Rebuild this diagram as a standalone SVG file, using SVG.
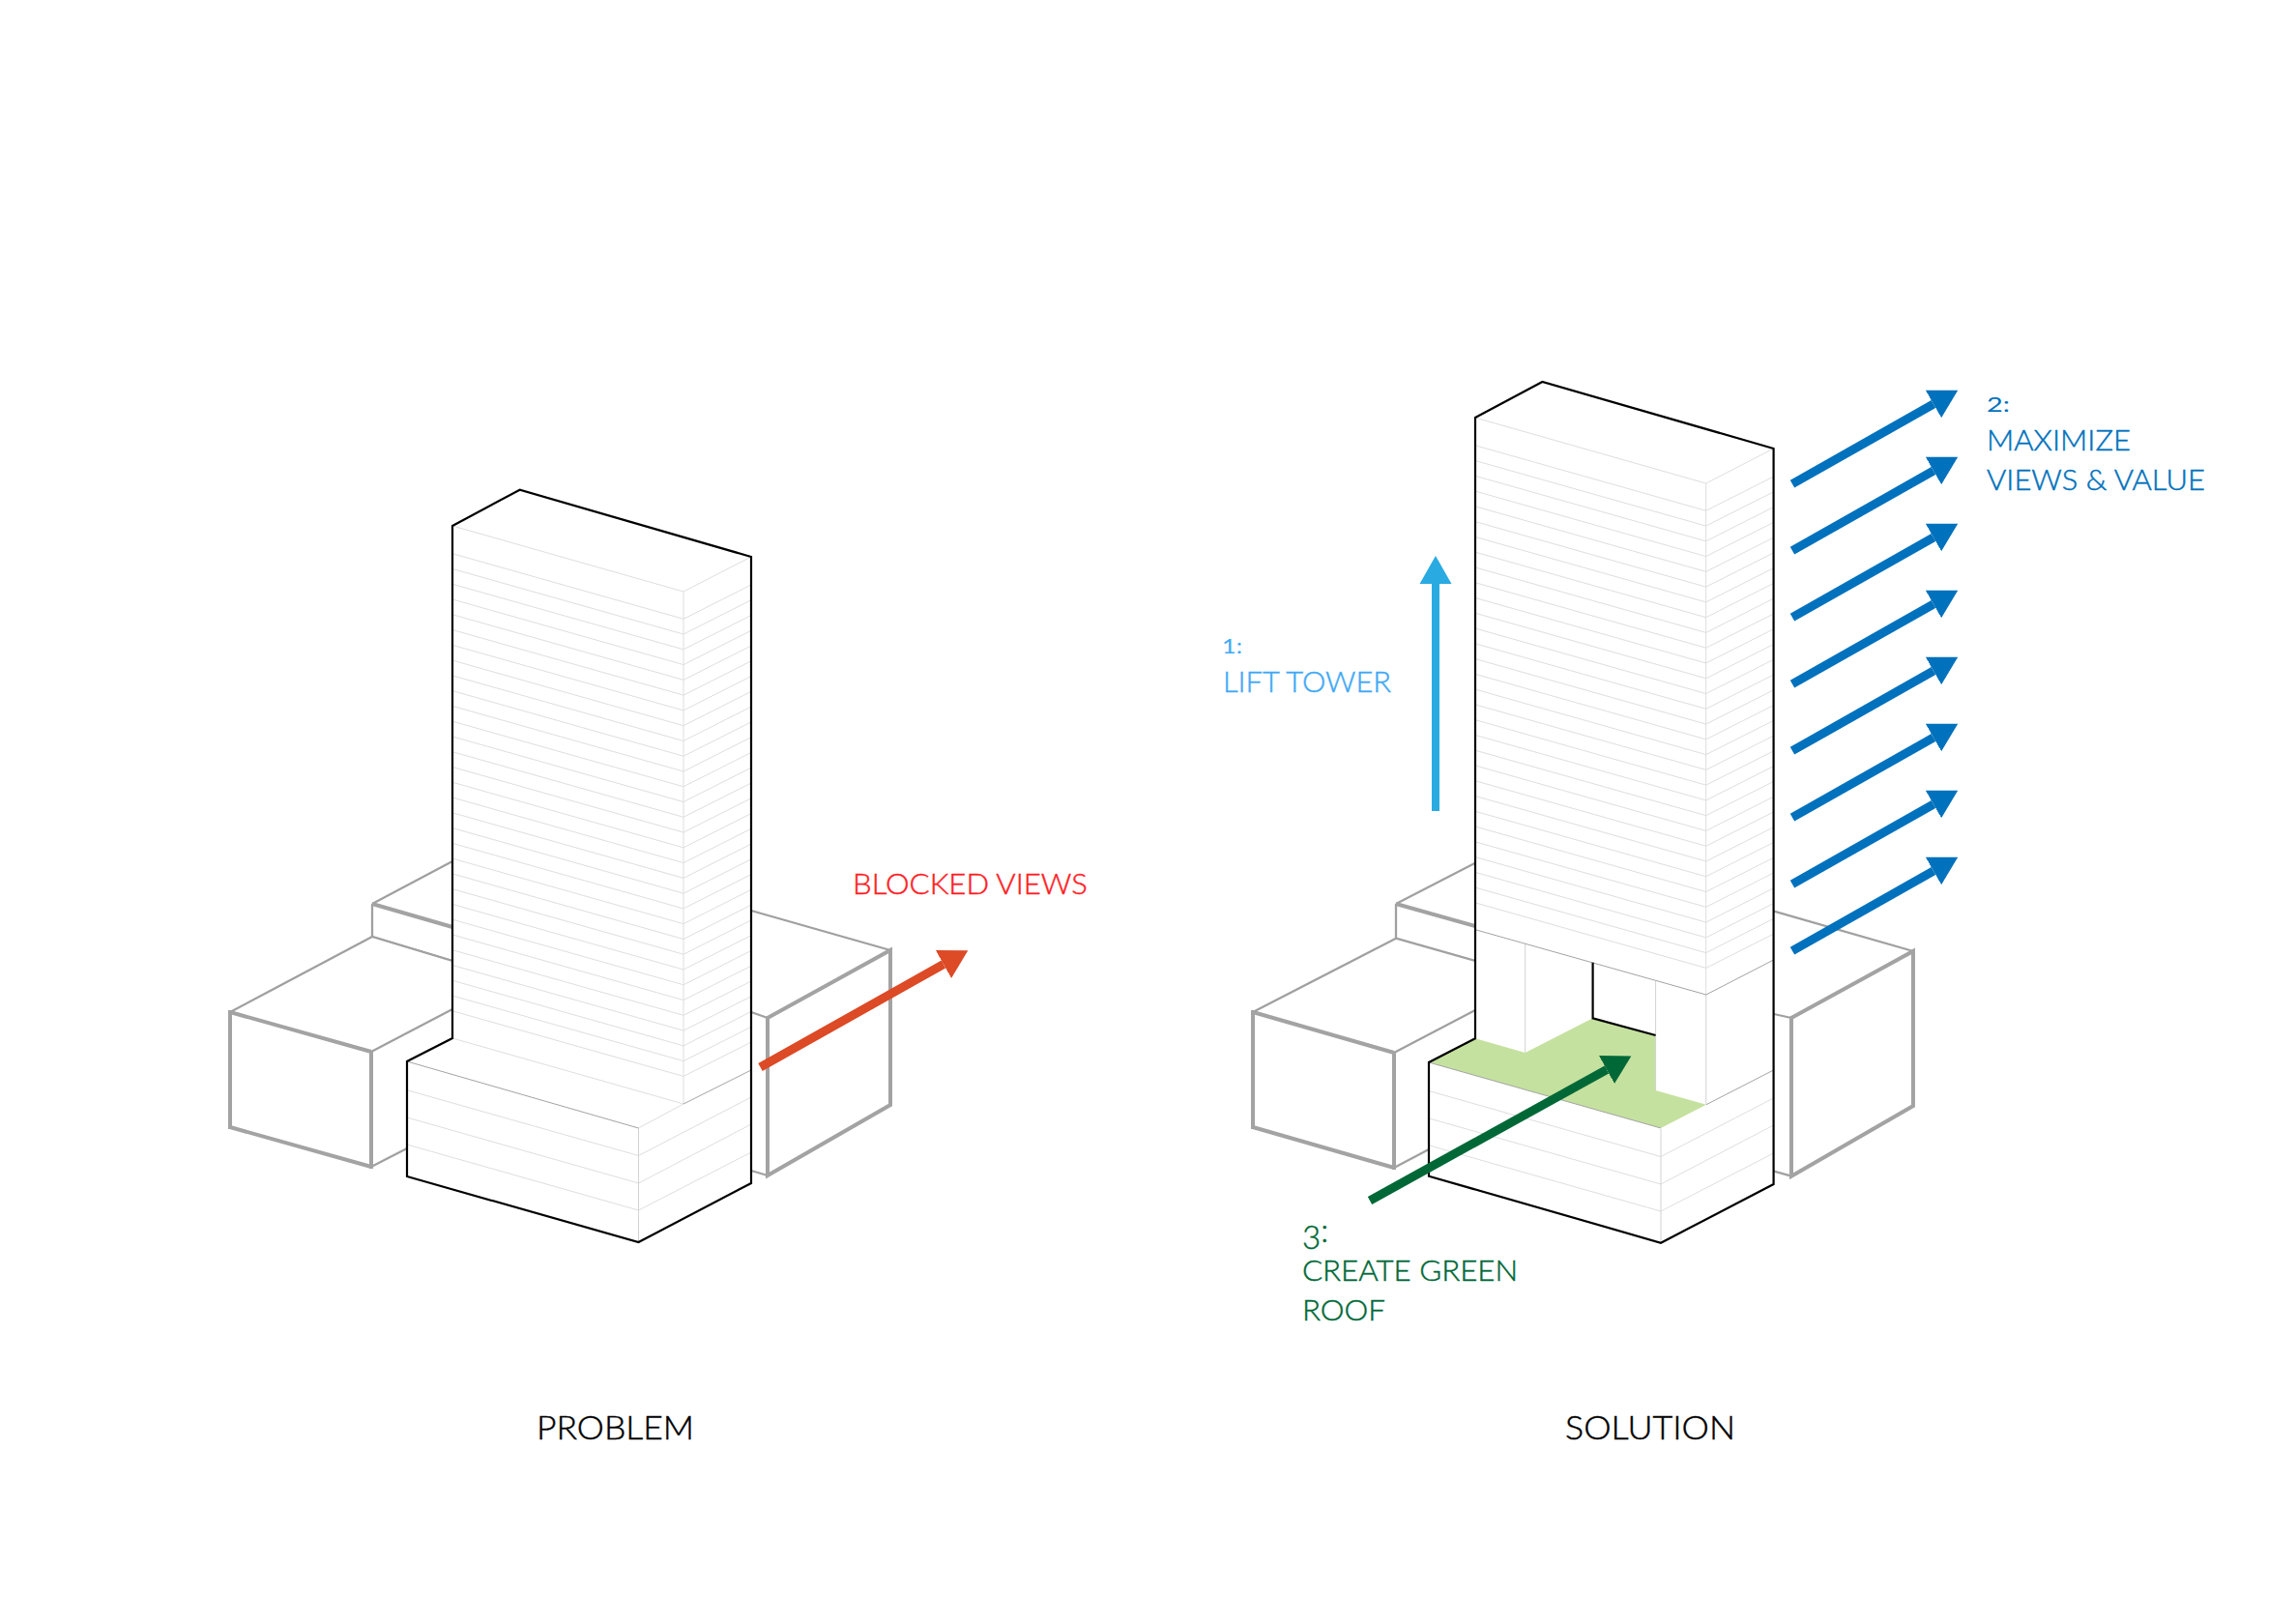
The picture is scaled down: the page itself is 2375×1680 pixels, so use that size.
<svg xmlns="http://www.w3.org/2000/svg" xmlns:xlink="http://www.w3.org/1999/xlink" width="2375" height="1680" viewBox="0 0 2375 1680">
<style>
text{font-family:"Lato","Liberation Sans",sans-serif;font-size:30px;font-weight:300;stroke-width:0.45}
.big{font-size:33.5px}
.num{font-size:21px;font-weight:400;stroke-width:0}
.tr{fill:#ff1d25;stroke:#ff1d25}
.tk{fill:#000;stroke:#000}
.tl{fill:#3fa9f5;stroke:#3fa9f5}
.tb{fill:#0071bc;stroke:#0071bc}
.tg{fill:#006837;stroke:#006837}
.o{fill:none;stroke:#000;stroke-width:2.2;stroke-linejoin:miter}
.w{fill:#fff;stroke:none}
.f{fill:none;stroke:#dedede;stroke-width:1}
.v{fill:none;stroke:#d2d2d2;stroke-width:1}
.e{fill:none;stroke:#a3a3a3;stroke-width:1}
.g1{fill:none;stroke:#a0a0a0;stroke-width:2.3}
.g2{fill:none;stroke:#a3a3a3;stroke-width:4}
.face{fill:#fff;stroke:none}
</style>
<defs>
<marker id="hb" markerUnits="userSpaceOnUse" markerWidth="30" markerHeight="34" refX="0" refY="17" orient="auto" viewBox="0 0 30 34"><path d="M0,0.5 L29,17 L0,33.5 Z" fill="#0071bc"/></marker>
<marker id="hr" markerUnits="userSpaceOnUse" markerWidth="30" markerHeight="34" refX="0" refY="17" orient="auto" viewBox="0 0 30 34"><path d="M0,0.5 L29,17 L0,33.5 Z" fill="#dc4a26"/></marker>
<marker id="hg" markerUnits="userSpaceOnUse" markerWidth="30" markerHeight="34" refX="0" refY="17" orient="auto" viewBox="0 0 30 34"><path d="M0,0.5 L29,17 L0,33.5 Z" fill="#006837"/></marker>
<marker id="hl" markerUnits="userSpaceOnUse" markerWidth="30" markerHeight="34" refX="0" refY="17" orient="auto" viewBox="0 0 30 34"><path d="M0,0.5 L29,17 L0,33.5 Z" fill="#29abe2"/></marker>
<polyline id="fl" class="f" points="468,572.7 707,640.3 777,605"/>
<g id="floors">
<polyline class="f" points="468,544 707,612 777,576"/>
<polyline class="f" points="707,612 707,1142"/>
<use href="#fl"/><use href="#fl" y="15.77"/><use href="#fl" y="31.54"/><use href="#fl" y="47.31"/><use href="#fl" y="63.08"/><use href="#fl" y="78.85"/><use href="#fl" y="94.62"/><use href="#fl" y="110.39"/><use href="#fl" y="126.16"/><use href="#fl" y="141.93"/><use href="#fl" y="157.7"/><use href="#fl" y="173.47"/><use href="#fl" y="189.24"/><use href="#fl" y="205.01"/><use href="#fl" y="220.78"/><use href="#fl" y="236.55"/><use href="#fl" y="252.32"/><use href="#fl" y="268.09"/><use href="#fl" y="283.86"/><use href="#fl" y="299.63"/><use href="#fl" y="315.4"/><use href="#fl" y="331.17"/><use href="#fl" y="346.94"/><use href="#fl" y="362.71"/><use href="#fl" y="378.48"/><use href="#fl" y="394.25"/><use href="#fl" y="410.02"/><use href="#fl" y="425.79"/><use href="#fl" y="441.56"/><use href="#fl" y="457.33"/><use href="#fl" y="473.1"/>
</g>
<g id="podfloors">
<polyline class="f" points="421,1127.7 660.5,1195.5 777,1135"/>
<polyline class="f" points="421,1156 660.5,1224 777,1163"/>
<polyline class="f" points="421,1184 660.5,1252 777,1192"/>
<polyline class="v" points="660.5,1167 660.5,1285"/>
</g>
</defs>
<rect width="2375" height="1680" fill="#fff"/>

<g id="problem-context">
<path class="g1" d="M385,969 V935 M385,935 L468,891 M385,969 L468,994"/>
<path class="g2" d="M385,935 L468,959"/>
<path class="face" d="M238,1047 L385,969 L468,994 V1150 L384,1207 L238,1166 Z"/>
<path class="g1" d="M238,1047 L385,969 L468,994 M384,1088 L468,1044 M384,1207 L421,1188"/>
<path class="g2" d="M238,1047 L384,1088 M238,1166 L384,1207 M238,1045 V1168 M384,1088 V1209"/>
<path class="g1" d="M777,942 L921,983 M777,1047 L794,1053 M777,1211 L794,1216"/>
<path class="g2" d="M794,1053 L921,983 V1143 L794,1216 Z"/>
</g>

<g id="problem-tower">
<path class="w" d="M468,544 L537.7,506.7 L777,576 V1224 L660.5,1285 L421,1217 V1098 L468,1074 Z"/>
<use href="#floors"/>
<use href="#podfloors"/>
<path class="f" d="M468,1074 L707,1142 M660.5,1167 L707,1142"/>
<path class="e" d="M707,1142 L777,1107 M421,1098 L660.5,1167"/>
<path class="o" d="M468,544 L537.7,506.7 L777,576 V1224 L660.5,1285 L421,1217 V1098 L468,1074 Z"/>
</g>

<g id="solution-context">
<path class="g1" d="M1444,970.7 V935 M1444,935 L1526,892.7 M1444,970.7 L1526,994"/>
<path class="g2" d="M1444,935 L1526,958"/>
<path class="g1" d="M1296,1047 L1444,970.7 M1442,1089 L1526,1045 M1442,1208 L1478,1189"/>
<path class="g2" d="M1296,1047 L1442,1089 M1296,1166 L1442,1208 M1296,1045 V1168 M1442,1089 V1210"/>
<path class="g1" d="M1835,942.7 L1979,984 M1835,1049 L1853,1053 M1835,1211.7 L1853,1216.7"/>
<path class="g2" d="M1853,1053 L1979,984 V1144 L1853,1216.7 Z"/>
</g>

<g id="solution-tower">
<path class="w" d="M1526,432 L1595.4,395 L1834.6,464 V1225 L1718,1285.7 L1478,1216.7 V1099 L1526,1074.3 Z"/>
<g transform="translate(1057.7,-112)"><use href="#floors"/></g>
<g transform="translate(1057.5,1)"><use href="#podfloors"/></g>
<path d="M1478,1099 L1526,1074.3 L1577.7,1089 L1647.6,1053.3 L1712.6,1071 V1128 L1765,1142.7 L1718,1167 Z" fill="#c5e19f"/>
<path class="e" stroke-width="0.8" d="M1478,1099 L1718,1167"/>
<path class="v" d="M1577.7,976 V1089 M1712.6,1015 V1128 M1764.8,1029 V1142.7"/>
<path class="e" d="M1526,961.7 L1764.8,1029 L1834.6,993 M1765,1142.7 L1834.6,1107"/>
<path class="o" d="M1526,432 L1595.4,395 L1834.6,464 V1225 L1718,1285.7 L1478,1216.7 V1099 L1526,1074.3 Z M1647.6,995.7 V1053.3 L1712.6,1071"/>
</g>

<g id="connectors" fill="none" stroke-width="9">
<line x1="786.5" y1="1104" x2="976" y2="997.5" stroke="#dc4a26" marker-end="url(#hr)"/>
<line x1="1485" y1="839" x2="1485" y2="604" stroke="#29abe2" stroke-width="8" marker-end="url(#hl)"/>
<line x1="1417" y1="1242" x2="1662" y2="1106.5" stroke="#006837" marker-end="url(#hg)"/>
<g stroke="#0071bc">
<line x1="1854" y1="500.7" x2="2000" y2="418" marker-end="url(#hb)"/>
<line x1="1854" y1="569.7" x2="2000" y2="487" marker-end="url(#hb)"/>
<line x1="1854" y1="638.7" x2="2000" y2="556" marker-end="url(#hb)"/>
<line x1="1854" y1="707.7" x2="2000" y2="625" marker-end="url(#hb)"/>
<line x1="1854" y1="776.7" x2="2000" y2="694" marker-end="url(#hb)"/>
<line x1="1854" y1="845.7" x2="2000" y2="763" marker-end="url(#hb)"/>
<line x1="1854" y1="914.7" x2="2000" y2="832" marker-end="url(#hb)"/>
<line x1="1854" y1="983.7" x2="2000" y2="901" marker-end="url(#hb)"/>
</g>
</g>

<g id="labels">
<text class="tr" x="882" y="925" textLength="243" lengthAdjust="spacingAndGlyphs">BLOCKED VIEWS</text>
<text class="big tk" x="555" y="1489" textLength="163" lengthAdjust="spacingAndGlyphs">PROBLEM</text>
<text class="big tk" x="1619" y="1489" textLength="176" lengthAdjust="spacingAndGlyphs">SOLUTION</text>
<text class="num tl" x="1264" y="676" textLength="21" lengthAdjust="spacingAndGlyphs">1:</text>
<text class="tl" x="1265" y="715.7" textLength="174" lengthAdjust="spacingAndGlyphs">LIFT TOWER</text>
<text class="num tb" x="2055" y="425.7" textLength="24" lengthAdjust="spacingAndGlyphs">2:</text>
<text class="tb" x="2055" y="466" textLength="149" lengthAdjust="spacingAndGlyphs">MAXIMIZE</text>
<text class="tb" x="2055" y="506.7" textLength="226" lengthAdjust="spacingAndGlyphs">VIEWS &amp; VALUE</text>
<text class="tg" x="1347" y="1292" style="font-size:33px">3<tspan dy="-7">:</tspan></text>
<text class="tg" x="1347" y="1325" textLength="223" lengthAdjust="spacingAndGlyphs">CREATE GREEN</text>
<text class="tg" x="1347" y="1365.7" textLength="86" lengthAdjust="spacingAndGlyphs">ROOF</text>
</g>
</svg>
